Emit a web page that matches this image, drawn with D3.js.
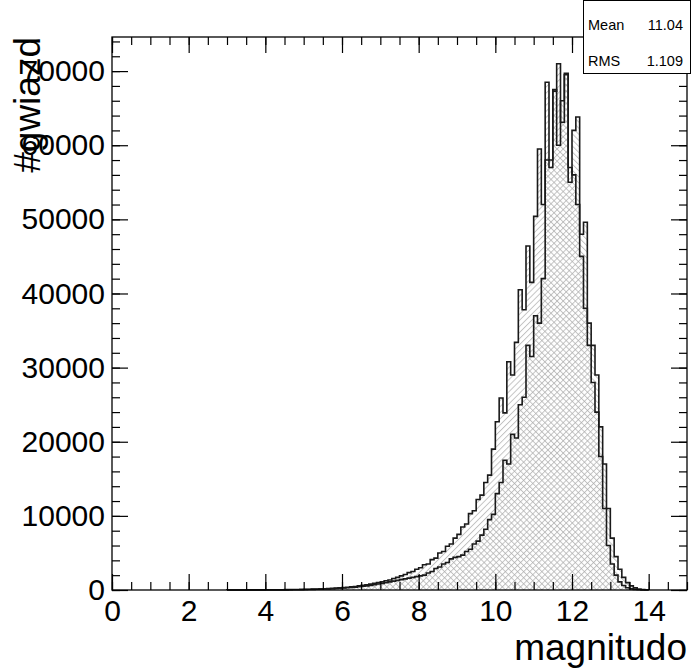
<!DOCTYPE html>
<html>
<head>
<meta charset="utf-8">
<script src="https://cdn.jsdelivr.net/npm/d3@7"></script>
<style>
  body { margin: 0; background: #fff; }
  svg { display: block; }
  text { font-family: "Liberation Sans", Arial, Helvetica, sans-serif; fill: #000; }
</style>
</head>
<body>
<svg id="chart" width="691" height="671"></svg>
<script>
// histogram binning: 150 bins of 0.1 mag from 0 to 15, counts listed from bin 30 (3.0 mag)
var binWidth = 0.1,
  firstBin = 30;

var countsA = [
  5, 5, 8, 8, 10, 12, 12, 15, 18, 20,
  25, 28, 32, 36, 40, 45, 52, 60, 68, 78,
  90, 100, 115, 130, 150, 170, 195, 220, 250, 285,
  320, 370, 420, 480, 550, 620, 700, 790, 890, 1000,
  1100, 1250, 1350, 1550, 1700, 1900, 2100, 2350, 2500, 2800,
  3000, 3400, 3500, 4100, 4300, 5000, 5200, 5900, 6200, 7000,
  7500, 8500, 8900, 10300, 10700, 12200, 12800, 14500, 15500, 19000,
  22700, 25900, 23900, 30800, 29000, 33400, 40500, 37800, 46400, 41500,
  50400, 59500, 52000, 68500, 58000, 67300, 71000, 63100, 69500, 57000,
  56000, 52000, 45000, 38000, 33000, 28000, 24000, 18000, 11000, 6000,
  3500, 2000, 1100, 600, 300, 150, 80, 40, 20, 10
];

var countsB = [
  2, 2, 3, 3, 4, 5, 5, 6, 7, 8,
  10, 12, 14, 16, 18, 20, 24, 28, 32, 36,
  60, 70, 80, 95, 110, 130, 150, 175, 200, 230,
  260, 300, 340, 390, 440, 500, 560, 630, 700, 800,
  900, 1000, 1100, 1200, 1300, 1400, 1500, 1600, 1700, 1800,
  1900, 2000, 2300, 2500, 2900, 3100, 3500, 3700, 4200, 4400,
  4500, 4700, 5200, 5500, 6200, 6600, 7400, 8200, 9500, 10200,
  13000, 14500, 17500, 17000, 21000, 20500, 25000, 26000, 33000, 31500,
  37000, 36000, 42000, 58000, 57000, 67500, 60000, 66000, 69700, 55000,
  62000, 63800, 48000, 49600, 36000, 33000, 29000, 22000, 17000, 11000,
  7000, 4500, 2800, 1700, 1000, 550, 280, 140, 70, 30
];

var statNames = ["Mean", "RMS"],
  statValues = ["11.04", "1.109"];

var xTitle = "magnitudo",
  yTitle = "#gwiazd";

var svg = d3.select("#chart");

var frame = {left: 112, right: 687, top: 37, bottom: 590};

var x = d3.scaleLinear()
  .domain([0, 15])
  .range([frame.left, frame.right]);

var y = d3.scaleLinear()
  .domain([0, 74600])
  .range([frame.bottom, frame.top]);

// hatch patterns, "/" for the first histogram and "\" for the second
var defs = svg.append("defs");
function hatch(id, angle) {
  defs.append("pattern")
    .attr("id", id)
    .attr("patternUnits", "userSpaceOnUse")
    .attr("width", 4.3)
    .attr("height", 4.3)
    .attr("patternTransform", "rotate(" + angle + ")")
    .append("line")
    .attr("x1", 0.5).attr("y1", 0)
    .attr("x2", 0.5).attr("y2", 4.3)
    .attr("stroke", "#adadad")
    .attr("stroke-width", 0.7);
}
hatch("hatchA", 45);
hatch("hatchB", -45);

function stepPath(counts) {
  var p = d3.path();
  var x0 = (firstBin) * binWidth;
  p.moveTo(x(x0), y(0));
  counts.forEach(function(c, i) {
    var lo = (firstBin + i) * binWidth,
      hi = lo + binWidth;
    p.lineTo(x(lo), y(c));
    p.lineTo(x(hi), y(c));
  });
  p.lineTo(x((firstBin + counts.length) * binWidth), y(0));
  return p.toString();
}

var plot = svg.append("g").attr("class", "plot");

plot.append("path")
  .attr("d", stepPath(countsA) + "Z")
  .attr("fill", "url(#hatchA)")
  .attr("stroke", "none");
plot.append("path")
  .attr("d", stepPath(countsB) + "Z")
  .attr("fill", "url(#hatchB)")
  .attr("stroke", "none");

[countsA, countsB].forEach(function(c) {
  plot.append("path")
    .attr("d", stepPath(c))
    .attr("fill", "none")
    .attr("stroke", "#1a1a1a")
    .attr("stroke-width", 1.6);
});

// frame
svg.append("rect")
  .attr("x", frame.left)
  .attr("y", frame.top)
  .attr("width", frame.right - frame.left)
  .attr("height", frame.bottom - frame.top)
  .attr("fill", "none")
  .attr("stroke", "#000")
  .attr("stroke-width", 1.3);

var xMajor = d3.range(0, 15.01, 2),
  xMinor = d3.range(0, 15.01, 0.5),
  yMajor = d3.range(0, 74600, 10000),
  yMinor = d3.range(0, 74600, 2000);

function styleAxis(g) {
  g.select(".domain").remove();
  g.selectAll(".tick line").attr("stroke", "#000").attr("stroke-width", 1.2);
  g.selectAll("text").style("font-size", "30px").attr("fill", "#000");
}

// bottom axis
svg.append("g")
  .attr("transform", "translate(0," + frame.bottom + ")")
  .call(d3.axisBottom(x).tickValues(xMinor).tickSize(-8).tickFormat(""))
  .call(styleAxis);
svg.append("g")
  .attr("transform", "translate(0," + frame.bottom + ")")
  .call(d3.axisBottom(x).tickValues(xMajor).tickSize(-16).tickPadding(10).tickFormat(d3.format("d")))
  .call(styleAxis);

// top axis
svg.append("g")
  .attr("transform", "translate(0," + frame.top + ")")
  .call(d3.axisTop(x).tickValues(xMinor).tickSize(-8).tickFormat(""))
  .call(styleAxis);
svg.append("g")
  .attr("transform", "translate(0," + frame.top + ")")
  .call(d3.axisTop(x).tickValues(xMajor).tickSize(-16).tickFormat(""))
  .call(styleAxis);

// left axis
svg.append("g")
  .attr("transform", "translate(" + frame.left + ",0)")
  .call(d3.axisLeft(y).tickValues(yMinor).tickSize(-8).tickFormat(""))
  .call(styleAxis);
svg.append("g")
  .attr("transform", "translate(" + frame.left + ",0)")
  .call(d3.axisLeft(y).tickValues(yMajor).tickSize(-16).tickPadding(7).tickFormat(d3.format("d")))
  .call(styleAxis);

// right axis
svg.append("g")
  .attr("transform", "translate(" + frame.right + ",0)")
  .call(d3.axisRight(y).tickValues(yMinor).tickSize(-8).tickFormat(""))
  .call(styleAxis);
svg.append("g")
  .attr("transform", "translate(" + frame.right + ",0)")
  .call(d3.axisRight(y).tickValues(yMajor).tickSize(-16).tickFormat(""))
  .call(styleAxis);

// axis titles
svg.append("text")
  .attr("x", frame.right)
  .attr("y", 660)
  .attr("text-anchor", "end")
  .style("font-size", "37px")
  .text(xTitle);

svg.append("text")
  .attr("transform", "translate(40," + frame.top + ") rotate(-90)")
  .attr("text-anchor", "end")
  .style("font-size", "37px")
  .text(yTitle);

// stats box
var box = svg.append("g").attr("class", "stats");
box.append("rect")
  .attr("x", 583.5)
  .attr("y", 0.5)
  .attr("width", 107)
  .attr("height", 73)
  .attr("fill", "#fff")
  .attr("stroke", "#000")
  .attr("stroke-width", 1);
statNames.forEach(function(n, i) {
  box.append("text")
    .attr("x", 588)
    .attr("y", 30 + i * 36)
    .style("font-size", "14.5px")
    .text(n);
  box.append("text")
    .attr("x", 683)
    .attr("y", 30 + i * 36)
    .attr("text-anchor", "end")
    .style("font-size", "14.5px")
    .text(statValues[i]);
});
</script>
</body>
</html>
